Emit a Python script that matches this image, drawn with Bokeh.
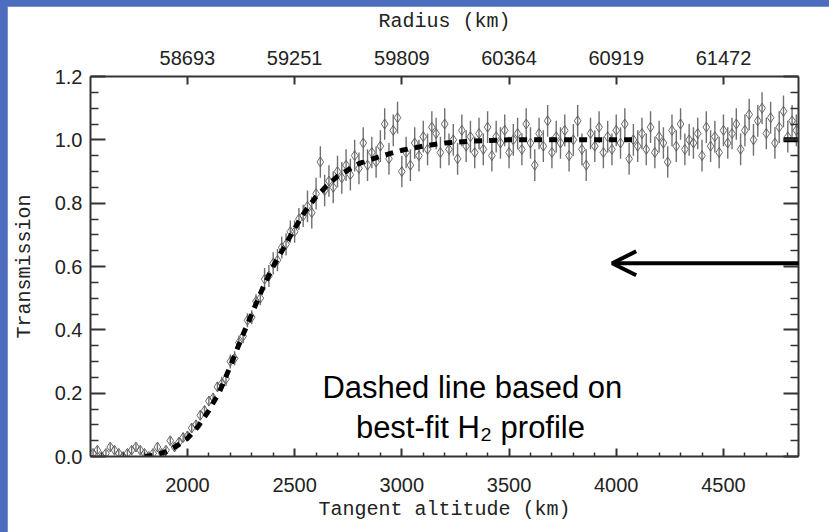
from bokeh.plotting import figure
from bokeh.models import (LinearAxis, FixedTicker, Range1d, Label, Arrow, OpenHead,
                          ColumnDataSource, PrintfTickFormatter)
from bokeh.layouts import column
from bokeh.embed import file_html
from bokeh.resources import INLINE

# ---------------- data ----------------
alt_ticks = [2000, 2500, 3000, 3500, 4000, 4500]
radius_labels = ["58693", "59251", "59809", "60364", "60919", "61472"]
y_ticks = [0.0, 0.2, 0.4, 0.6, 0.8, 1.0, 1.2]

altitude = list(range(1560, 4841, 20))
transmission = [
    0.01, 0.02, 0.00, 0.01, 0.03, 0.02, 0.01, 0.00, 0.01, 0.02,
    0.03, 0.02, 0.01, 0.00, 0.01, 0.03, 0.01, 0.02, 0.05, 0.03,
    0.045, 0.06, 0.065, 0.09, 0.10, 0.13, 0.145, 0.175, 0.185, 0.22,
    0.23, 0.245, 0.30, 0.31, 0.36, 0.38, 0.43, 0.44, 0.49, 0.50,
    0.56, 0.57, 0.61, 0.62, 0.66, 0.67, 0.71, 0.71, 0.75, 0.76,
    0.79, 0.77, 0.83, 0.93, 0.84, 0.87, 0.85, 0.90, 0.88, 0.92,
    0.89, 0.95, 0.91, 0.99, 0.92, 0.96, 0.93, 0.98, 1.05, 0.94,
    1.03, 1.07, 0.90, 0.96, 0.92, 0.99, 0.95, 1.01, 0.97, 1.04,
    1.02, 0.96, 1.05, 0.97, 1.00, 0.94, 1.03, 0.98, 1.01, 0.96,
    1.02, 0.97, 1.04, 0.95, 1.01, 0.99, 1.03, 0.96, 1.00, 1.02,
    0.97, 1.05, 0.99, 0.92, 1.02, 0.98, 1.06, 0.96, 1.01, 0.99,
    1.03, 0.95, 1.00, 1.06, 0.97, 0.92, 1.02, 0.98, 1.04, 0.96,
    1.01, 0.97, 1.03, 0.99, 1.05, 0.94, 1.00, 0.98, 1.02, 0.97,
    1.04, 0.96, 1.01, 0.99, 0.93, 1.03, 0.98, 1.05, 0.97, 1.00,
    0.99, 1.02, 0.95, 1.04, 0.98, 1.01, 0.96, 1.03, 0.99, 1.02,
    1.05, 0.97, 1.03, 1.08, 1.00, 1.06, 1.10, 1.02, 1.07, 0.99,
    1.04, 1.09, 1.01, 1.06, 1.03,
]
error = [0.012] * 20 + [0.015] * 10 + [0.022] * 10 + [0.035] * 10 + [0.05] * 115

fit_alt = [1800, 1850, 1900, 1950, 2000, 2050, 2100, 2150, 2200, 2250, 2300, 2350,
           2400, 2450, 2500, 2550, 2600, 2650, 2700, 2750, 2800, 2900, 3000, 3100,
           3200, 3300, 3400, 3500, 4100]
fit_trans = [0.0, 0.004, 0.015, 0.033, 0.057, 0.095, 0.145, 0.205, 0.285, 0.37, 0.45,
             0.53, 0.6, 0.66, 0.72, 0.775, 0.82, 0.855, 0.885, 0.905, 0.925, 0.948,
             0.967, 0.98, 0.99, 0.995, 0.998, 1.0, 1.0]
fit_tail_alt = [4780, 4850]
fit_tail_trans = [1.0, 1.0]

# ---------------- figure ----------------
LABEL_FONT = "Liberation Sans"
TITLE_FONT = "Liberation Mono"
AXIS_COLOR = "#333333"

p = figure(width=822, height=526, output_backend="svg", toolbar_location=None,
           x_range=Range1d(1548, 4850), y_range=Range1d(0.0, 1.2),
           min_border_left=83, min_border_right=31, min_border_top=68,
           min_border_bottom=76, x_axis_location=None, y_axis_location=None,
           background_fill_color="white", border_fill_color="white")
p.margin = (6, 0, 0, 7)
p.grid.visible = False
p.outline_line_color = None


def style_axis(ax, major_in, minor_in):
    ax.axis_line_color = AXIS_COLOR
    ax.axis_line_width = 2
    ax.major_tick_line_color = AXIS_COLOR
    ax.major_tick_line_width = 2
    ax.minor_tick_line_color = AXIS_COLOR
    ax.minor_tick_line_width = 1.5
    ax.major_tick_in = major_in
    ax.major_tick_out = 0
    ax.minor_tick_in = minor_in
    ax.minor_tick_out = 0
    ax.major_label_text_font = LABEL_FONT
    ax.major_label_text_font_size = "20px"
    ax.major_label_text_color = "#222222"
    ax.axis_label_text_font = TITLE_FONT
    ax.axis_label_text_font_size = "20px"
    ax.axis_label_text_font_style = "normal"
    ax.axis_label_text_color = "#222222"


x_minor = [v for v in range(1600, 4850, 100) if v % 500 != 0]
y_minor = [0.05, 0.1, 0.15, 0.25, 0.3, 0.35, 0.45, 0.5, 0.55, 0.65, 0.7, 0.75,
           0.85, 0.9, 0.95, 1.05, 1.1, 1.15]

bottom = LinearAxis(ticker=FixedTicker(ticks=alt_ticks, minor_ticks=x_minor),
                    axis_label="Tangent altitude (km)")
style_axis(bottom, 8, 4)
bottom.major_label_standoff = 21
bottom.axis_label_standoff = 3
p.add_layout(bottom, "below")

top = LinearAxis(ticker=FixedTicker(ticks=alt_ticks, minor_ticks=[]),
                 axis_label="Radius (km)",
                 major_label_overrides={t: lab for t, lab in zip(alt_ticks, radius_labels)})
style_axis(top, 8, 0)
top.major_label_standoff = 12
top.axis_label_standoff = 15
p.add_layout(top, "above")

left = LinearAxis(ticker=FixedTicker(ticks=y_ticks, minor_ticks=y_minor),
                  axis_label="Transmission", formatter=PrintfTickFormatter(format="%.1f"))
style_axis(left, 15, 8)
left.major_label_standoff = 8
left.axis_label_standoff = 16
p.add_layout(left, "left")

right = LinearAxis(ticker=FixedTicker(ticks=y_ticks, minor_ticks=y_minor),
                   major_label_overrides={t: "" for t in y_ticks})
style_axis(right, 15, 8)
right.major_label_text_font_size = "0px"
p.add_layout(right, "right")

# ---------------- data glyphs ----------------
src = ColumnDataSource(dict(
    x=altitude, y=transmission,
    lo=[t - e for t, e in zip(transmission, error)],
    hi=[t + e for t, e in zip(transmission, error)],
))
p.segment(x0="x", y0="lo", x1="x", y1="hi", source=src,
          line_color="#606060", line_width=1.4, line_alpha=0.9)
p.scatter(x="x", y="y", source=src, marker="diamond", size=10,
          fill_color=None, line_color="#5a5a5a", line_width=1, line_alpha=0.9)

p.line(fit_alt, fit_trans, line_color="black", line_width=5, line_dash="8 7")
p.line(fit_tail_alt, fit_tail_trans, line_color="black", line_width=5)

# ---------------- annotations ----------------
p.add_layout(Label(x=3329, y=0.217, text="Dashed line based on",
                   text_font="Liberation Sans", text_font_size="31px",
                   text_color="black", text_align="center",
                   text_baseline="alphabetic"))
p.add_layout(Label(x=3320, y=0.091, text="best-fit H\u2082 profile",
                   text_font="Liberation Sans", text_font_size="31px",
                   text_color="black", text_align="center",
                   text_baseline="alphabetic"))

p.add_layout(Arrow(x_start=4995, y_start=0.61, x_end=3981, y_end=0.61,
                   line_color="black", line_width=4,
                   end=OpenHead(size=24, line_color="black", line_width=4)))

layout = column(p, width=829, height=532,
                styles={"background": "#4d6dbf"})

open("out.html", "w").write(file_html(layout, INLINE))
